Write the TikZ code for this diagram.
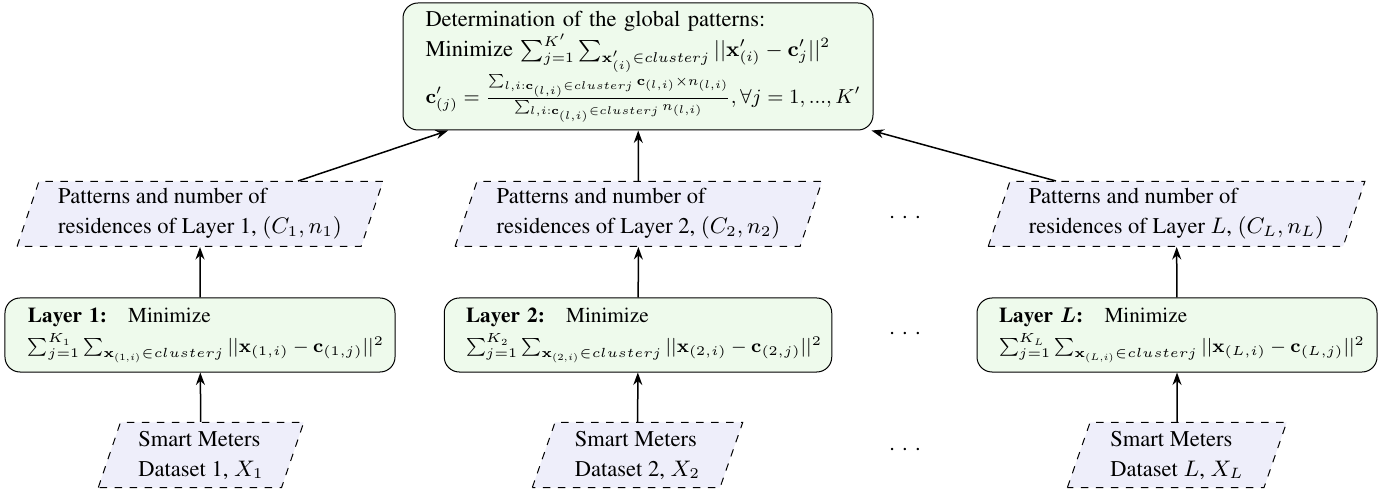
\RequirePackage{fix-cm}
\documentclass[tikz,border=0pt]{standalone}
\usepackage[T1]{fontenc}
\usepackage{times}
\usepackage{amsmath}
\usepackage{graphicx}
\usetikzlibrary{shapes.geometric,arrows.meta}
\definecolor{boxgreen}{RGB}{238,250,236}
\definecolor{paraviolet}{RGB}{238,238,250}
\tikzset{
  every node/.style={font=\fontsize{9}{12}\selectfont},
  rbox/.style={draw, rounded corners=6pt, fill=boxgreen, align=left, inner xsep=4pt, inner ysep=1pt},
  lbox/.style={rbox, font=\fontsize{8.5}{12}\selectfont},
  para/.style={draw, dashed, fill=paraviolet, shape=trapezium, trapezium left angle=70,
    trapezium right angle=110, trapezium stretches=true, align=left, minimum height=26pt, inner ysep=1pt},
  arr/.style={-{Stealth[length=5pt,width=3.6pt]}, semithick},
  dotsnode/.style={inner sep=0pt}
}
\newcommand{\mydots}{.\hspace{2.9pt}.\hspace{2.9pt}.}
\newcommand{\sumline}[2]{\scalebox{#1}{$\displaystyle{\textstyle #2}$}}
\begin{document}
\begin{tikzpicture}[x=0.4pt,y=-0.4pt]
\useasboundingbox (0,0) rectangle (1384,491);
% top
\node[rbox, text width=170pt, minimum width=188pt, minimum height=50.8pt] (top) at (638,66.5) {Determination of the global patterns:\\
\mbox{Minimize \scalebox{0.95}{$\sum_{j=1}^{K'}\sum_{\mathbf{x}'_{(i)}\in cluster j}||\mathbf{x}'_{(i)}-\mathbf{c}'_j||^2$}}\\
\mbox{\scalebox{0.9}{$\mathbf{c}'_{(j)}=\frac{\sum_{l,i:\mathbf{c}_{(l,i)}\in cluster j}\mathbf{c}_{(l,i)}\times n_{(l,i)}}{\sum_{l,i:\mathbf{c}_{(l,i)}\in cluster j} n_{(l,i)}}, \forall j=1,...,K'$}}};
% pattern parallelograms
\node[para, minimum width=146.4pt] (p1) at (200,214) {Patterns and number of\\residences of Layer 1, $(C_1,n_1)$};
\node[para, minimum width=146.8pt] (p2) at (638.5,214) {Patterns and number of\\residences of Layer 2, $(C_2,n_2)$};
\node[para, minimum width=150.8pt] (pL) at (1176.5,214) {Patterns and number of\\residences of Layer $L$, $(C_L,n_L)$};
% layer boxes
\node[lbox, text width=137.6pt, minimum width=156pt, minimum height=29.6pt] (l1) at (200,335) {\textbf{Layer 1:}\quad Minimize\\\mbox{\scalebox{0.89}{$\sum_{j=1}^{K_1}\sum_{\mathbf{x}_{(1,i)}\in cluster j}||\mathbf{x}_{(1,i)}-\mathbf{c}_{(1,j)}||^2$}}};
\node[lbox, text width=137.6pt, minimum width=155pt, minimum height=29.6pt] (l2) at (638,335) {\textbf{Layer 2:}\quad Minimize\\\mbox{\scalebox{0.89}{$\sum_{j=1}^{K_2}\sum_{\mathbf{x}_{(2,i)}\in cluster j}||\mathbf{x}_{(2,i)}-\mathbf{c}_{(2,j)}||^2$}}};
\node[lbox, text width=142.4pt, minimum width=160pt, minimum height=29.6pt] (lL) at (1177,335) {\textbf{Layer \boldmath$L$:}\quad Minimize\\\mbox{\scalebox{0.89}{$\sum_{j=1}^{K_L}\sum_{\mathbf{x}_{(L,i)}\in cluster j}||\mathbf{x}_{(L,i)}-\mathbf{c}_{(L,j)}||^2$}}};
% datasets
\node[para, minimum width=82.4pt] (d1) at (201,455) {Smart Meters\\Dataset 1, $X_1$};
\node[para, minimum width=84.4pt] (d2) at (637.5,455) {Smart Meters\\Dataset 2, $X_2$};
\node[para, minimum width=88pt] (dL) at (1177,455) {Smart Meters\\Dataset $L$, $X_L$};
% dots
\node[dotsnode] (e1) at (905,217) {\mydots};
\node[dotsnode] (e2) at (905,333) {\mydots};
\node[dotsnode] (e3) at (905,449) {\mydots};
% arrows
\draw[arr] (d1) -- (l1);
\draw[arr] (d2) -- (l2);
\draw[arr] (dL) -- (lL);
\draw[arr] (l1) -- (p1);
\draw[arr] (l2) -- (p2);
\draw[arr] (lL) -- (pL);
\draw[arr] (p1) -- (top);
\draw[arr] (p2) -- (top);
\draw[arr] (pL) -- (top);
\end{tikzpicture}
\end{document}
